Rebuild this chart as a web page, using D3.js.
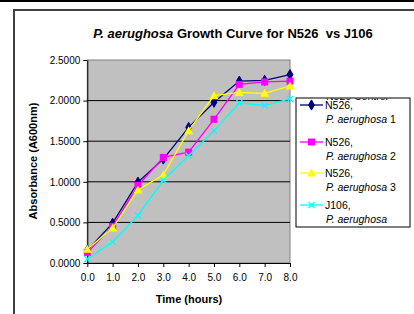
<!DOCTYPE html>
<html><head><meta charset="utf-8">
<script src="https://cdn.jsdelivr.net/npm/d3@7"></script>
<style>body{margin:0;background:#fff}svg{display:block;font-family:"Liberation Sans",Arial,sans-serif}</style>
</head><body><svg id="c" width="414" height="314"></svg>
<script>
const times = [0, 1, 2, 3, 4, 5, 6, 7, 8];
const xTickLabels = ["0.0","1.0","2.0","3.0","4.0","5.0","6.0","7.0","8.0"];
const yTicks = [0, 0.5, 1.0, 1.5, 2.0, 2.5];
const seriesNames = ["N526, |P. aerughosa| 1", "N526, |P. aerughosa| 2", "N526, |P. aerughosa| 3", "J106, |P. aerughosa|"];
const s1 = [0.156, 0.49, 0.996, 1.28, 1.67, 1.98, 2.24, 2.25, 2.32];
const s2 = [0.13, 0.45, 0.955, 1.30, 1.365, 1.77, 2.20, 2.23, 2.24];
const s3 = [0.17, 0.43, 0.90, 1.085, 1.63, 2.06, 2.10, 2.09, 2.18];
const s4 = [0.05, 0.26, 0.585, 1.02, 1.32, 1.63, 1.97, 1.94, 2.02];
const colors = ["#000080", "#FF00FF", "#FFFF00", "#00FFFF"];
const symbols = ["diamond", "square", "triangle", "x"];
const allSeries = [s1, s2, s3, s4];

const svg = d3.select("#c");
const defs = svg.append("defs");
defs.append("clipPath").attr("id","lc").append("rect").attr("x",296).attr("y",98.5).attr("width",114).attr("height",10);

svg.append("rect").attr("x",0).attr("y",0).attr("width",414).attr("height",2).attr("fill","#000");
svg.append("rect").attr("x",14).attr("y",10).attr("width",420).attr("height",320)
  .attr("fill","#fff").attr("stroke","#404040").attr("stroke-width",2);

const L=87.3, R=290, T=60, B=263;
const x = d3.scaleLinear().domain([0,8]).range([L,R]);
const y = d3.scaleLinear().domain([0,2.5]).range([B,T]);

svg.append("rect").attr("x",L).attr("y",T).attr("width",R-L).attr("height",B-T)
  .attr("fill","#C0C0C0").attr("stroke","#808080").attr("stroke-width",1);
svg.append("g").selectAll("line").data(yTicks.slice(1,-1)).join("line")
  .attr("x1",L).attr("x2",R).attr("y1",d=>y(d)).attr("y2",d=>y(d))
  .attr("stroke","#000").attr("stroke-width",1);

const yAx = svg.append("g").attr("transform",`translate(${L},0)`)
  .call(d3.axisLeft(y).tickValues(yTicks).tickFormat(d3.format(".4f")).tickSize(4).tickSizeOuter(0));
const xAx = svg.append("g").attr("transform",`translate(0,${B})`)
  .call(d3.axisBottom(x).tickValues(times).tickFormat((d,i)=>xTickLabels[i]).tickSize(4).tickSizeOuter(0));
[yAx,xAx].forEach(a=>{
  a.select(".domain").attr("stroke","#000");
  a.selectAll("line").attr("stroke","#000");
  a.selectAll("text").attr("font-size","10px").attr("fill","#000").attr("font-family","Liberation Sans, Arial, sans-serif");
});
yAx.selectAll("text").attr("x",-7);
xAx.selectAll("text").attr("y",11);

const title = svg.append("text").attr("x",233).attr("y",38).attr("text-anchor","middle")
  .attr("font-size","13px").attr("font-weight","bold");
title.append("tspan").attr("font-style","italic").text("P. aerughosa");
title.append("tspan").text(" Growth Curve for N526\u00a0\u00a0vs J106");
svg.append("text").attr("x",189).attr("y",303).attr("text-anchor","middle")
  .attr("font-size","11px").attr("font-weight","bold").text("Time (hours)");
svg.append("text").attr("transform","translate(37,161) rotate(-90)").attr("text-anchor","middle")
  .attr("font-size","11px").attr("font-weight","bold").text("Absorbance (A600nm)");

function drawMarker(g, type, color, cx, cy){
  if(type==="diamond"){
    g.append("path").attr("d",d3.symbol(d3.symbolDiamond,30)()).attr("transform",`translate(${cx},${cy})`)
      .attr("fill",color).attr("stroke",color);
  } else if(type==="square"){
    g.append("rect").attr("x",cx-3.5).attr("y",cy-3.5).attr("width",7).attr("height",7).attr("fill",color);
  } else if(type==="triangle"){
    g.append("path").attr("d",`M${cx},${cy-4.5}L${cx+4.5},${cy+3.5}L${cx-4.5},${cy+3.5}Z`).attr("fill",color);
  } else {
    g.append("path").attr("d",`M${cx-3},${cy-3}L${cx+3},${cy+3}M${cx-3},${cy+3}L${cx+3},${cy-3}`)
      .attr("stroke",color).attr("stroke-width",1.3);
  }
}

const line = d3.line().x((d,i)=>x(times[i])).y(d=>y(d));
allSeries.forEach((s,k)=>{
  const g = svg.append("g");
  g.append("path").attr("d",line(s)).attr("fill","none").attr("stroke",colors[k]).attr("stroke-width",1.3);
  s.forEach((v,i)=>drawMarker(g, symbols[k], colors[k], x(times[i]), y(v)));
});

const lg = svg.append("g");
lg.append("rect").attr("x",296).attr("y",98).attr("width",114).attr("height",129)
  .attr("fill","#fff").attr("stroke","#000").attr("stroke-width",1);
lg.append("text").attr("clip-path","url(#lc)").attr("x",326).attr("y",100).attr("font-size","10.5px").text("N526 Control");
const rowY = [105, 142, 173, 205];
seriesNames.forEach((nm,k)=>{
  const parts = nm.split("|");
  const yy = rowY[k];
  lg.append("line").attr("x1",300).attr("x2",323).attr("y1",yy).attr("y2",yy).attr("stroke",colors[k]).attr("stroke-width",1.3);
  drawMarker(lg, symbols[k], colors[k], 311.5, yy);
  lg.append("text").attr("x",325).attr("y",yy+4).attr("font-size","10.5px").text(parts[0].trim());
  const t2 = lg.append("text").attr("x",326).attr("y",yy+18).attr("font-size","10.5px");
  t2.append("tspan").attr("font-style","italic").text(parts[1]);
  t2.append("tspan").text(parts[2]);
});
</script></body></html>
